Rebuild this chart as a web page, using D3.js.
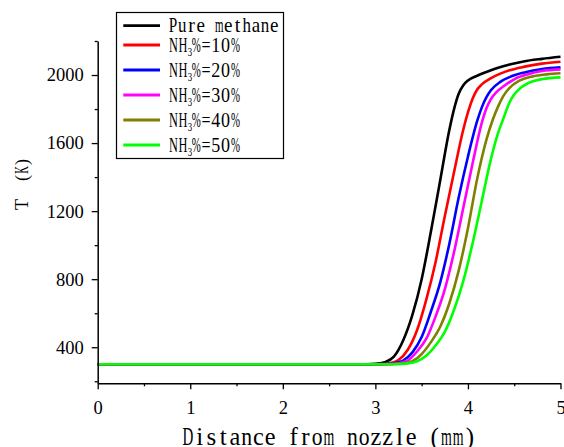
<!DOCTYPE html>
<html>
<head>
<meta charset="utf-8">
<script src="https://cdn.jsdelivr.net/npm/d3@7"></script>
<style>
  html, body { margin: 0; padding: 0; background: #fff; }
  svg { display: block; }
  text { font-family: "Liberation Serif", "Times New Roman", "DejaVu Serif", "Noto Serif", serif; fill: #000; }
</style>
</head>
<body>
<svg id="chart" width="564" height="447"></svg>
<script>
// ---- data ----
const seriesNames = ["Pure methane", "10%", "20%", "30%", "40%", "50%"];
const seriesColors = ["#000000", "#ff0000", "#0000ff", "#ff00ff", "#808000", "#00ff00"];

const pureMethane = [[0,300],[2.9,300],[3.0,302],[3.1,312],[3.2,345],[3.3,440],[3.4,590],[3.5,800],[3.6,1080],[3.7,1380],[3.8,1680],[3.85,1800],[3.9,1890],[3.95,1940],[4.0,1968],[4.1,1996],[4.2,2018],[4.3,2038],[4.45,2062],[4.6,2080],[4.8,2095],[5,2107]];
const nh3_10 = [[0,300],[2.95,300],[3.05,301],[3.15,306],[3.25,325],[3.35,385],[3.45,500],[3.55,680],[3.65,900],[3.75,1170],[3.85,1430],[3.95,1680],[4.0,1780],[4.05,1860],[4.1,1915],[4.15,1945],[4.25,1982],[4.35,2008],[4.45,2028],[4.6,2048],[4.8,2067],[5,2078]];
const nh3_20 = [[0,300],[3.0,300],[3.1,301],[3.2,306],[3.3,322],[3.4,370],[3.5,460],[3.6,610],[3.7,780],[3.8,1010],[3.9,1280],[4.0,1520],[4.1,1730],[4.15,1810],[4.2,1870],[4.25,1912],[4.35,1960],[4.45,1988],[4.6,2014],[4.8,2035],[5,2045]];
const nh3_30 = [[0,300],[3.05,300],[3.15,301],[3.25,306],[3.35,322],[3.45,375],[3.55,450],[3.65,580],[3.75,740],[3.85,960],[3.95,1220],[4.05,1480],[4.15,1720],[4.2,1805],[4.25,1860],[4.3,1895],[4.4,1940],[4.5,1975],[4.65,2005],[4.8,2024],[5,2033]];
const nh3_40 = [[0,300],[3.1,300],[3.2,301],[3.3,305],[3.4,318],[3.5,360],[3.6,430],[3.7,520],[3.8,660],[3.9,850],[4.0,1100],[4.1,1390],[4.2,1620],[4.27,1740],[4.33,1820],[4.38,1875],[4.45,1925],[4.55,1965],[4.7,1992],[4.85,2004],[5,2010]];
const nh3_50 = [[0,300],[3.15,300],[3.25,301],[3.35,305],[3.45,318],[3.55,350],[3.65,410],[3.75,490],[3.85,620],[3.95,790],[4.05,1010],[4.15,1260],[4.25,1510],[4.32,1650],[4.38,1740],[4.45,1840],[4.5,1885],[4.57,1925],[4.65,1952],[4.8,1976],[5,1986]];
const allSeries = [pureMethane, nh3_10, nh3_20, nh3_30, nh3_40, nh3_50];

const xMajorTicks = [0, 1, 2, 3, 4, 5];
const xMinorTicks = [0.5, 1.5, 2.5, 3.5, 4.5];
const yMajorTicks = [400, 800, 1200, 1600, 2000];
const yMinorTicks = [200, 600, 1000, 1400, 1800, 2200];
const xTitle = "Distance from nozzle (mm)";
const yTitleMain = "T";
const yTitleUnit = "(K)";

// ---- layout ----
const svg = d3.select("#chart");
const x = d3.scaleLinear().domain([0, 5]).range([97.7, 560.5]);
const y = d3.scaleLinear().domain([188, 2200]).range([383.3, 41]);

// curves
const line = d3.line().x(d => x(d[0])).y(d => y(d[1])).curve(d3.curveMonotoneX);
svg.append("g").selectAll("path").data(allSeries).join("path")
  .attr("d", line)
  .attr("fill", "none")
  .attr("stroke", (d, i) => seriesColors[i])
  .attr("stroke-width", 2.6)
  .attr("stroke-linejoin", "round");

// axes
function styleAxis(g) {
  g.attr("font-family", null);
  g.selectAll("path.domain").attr("stroke", "#000").attr("stroke-width", 1.5);
  g.selectAll(".tick line").attr("stroke", "#000").attr("stroke-width", 1.3);
}
const xAxisY = 383.3;
const gx = svg.append("g").attr("transform", `translate(0,${xAxisY})`)
  .call(d3.axisBottom(x).tickValues(xMajorTicks).tickSize(6).tickSizeOuter(0).tickPadding(12).tickFormat(d3.format("d")));
styleAxis(gx);
gx.selectAll(".tick text").attr("font-size", 18.5).attr("fill", "#000");
const gxm = svg.append("g").attr("transform", `translate(0,${xAxisY})`)
  .call(d3.axisBottom(x).tickValues(xMinorTicks).tickSize(3).tickFormat(""));
gxm.select("path.domain").remove();
styleAxis(gxm);

const yAxisX = 97.7;
const gy = svg.append("g").attr("transform", `translate(${yAxisX},0)`)
  .call(d3.axisLeft(y).tickValues(yMajorTicks).tickSize(6).tickSizeOuter(0).tickPadding(8).tickFormat(d3.format("d")));
styleAxis(gy);
gy.selectAll(".tick text").attr("font-size", 18.5).attr("fill", "#000");
const gym = svg.append("g").attr("transform", `translate(${yAxisX},0)`)
  .call(d3.axisLeft(y).tickValues(yMinorTicks).tickSize(3).tickFormat(""));
gym.select("path.domain").remove();
styleAxis(gym);

// fixed-pitch text (mimics the half-width CJK font of the original)
function monoText(parent, str, x0, baseY, pitch, fontSize, fill = 0.92) {
  const g = parent.append("g");
  Array.from(str).forEach((c, k) => {
    if (c === " ") return;
    const t = g.append("text").attr("font-size", fontSize).attr("text-anchor", "middle").text(c);
    const w = t.node().getComputedTextLength();
    const s = Math.min(1, pitch * fill / w);
    const cx = x0 + pitch * (k + 0.5);
    t.attr("transform", `translate(${cx},${baseY}) scale(${s},1)`);
  });
  return g;
}

// axis titles
monoText(svg, xTitle, 182, 445, 11.75, 25);

const yt = svg.append("g").attr("transform", "translate(27.5,212) rotate(-90)");
monoText(yt, yTitleMain, 0, 0, 15, 18, 0.95);
monoText(yt, yTitleUnit, 30, 0, 8, 18, 0.95);

// legend
const legend = svg.append("g");
legend.append("rect").attr("x", 116.5).attr("y", 12.5).attr("width", 167).attr("height", 146)
  .attr("fill", "#fff").attr("stroke", "#000").attr("stroke-width", 1.2);
const rowY = [25.7, 45, 70, 95, 120, 145];
seriesNames.forEach((name, i) => {
  legend.append("line").attr("x1", 123.3).attr("x2", 160).attr("y1", rowY[i]).attr("y2", rowY[i])
    .attr("stroke", seriesColors[i]).attr("stroke-width", 2.8);
  if (i === 0) {
    monoText(legend, name, 168.5, rowY[i] + 6, 9.2, 20);
  } else {
    const b = rowY[i] + 6.7;
    monoText(legend, "NH", 168.5, b, 9.7, 20);
    monoText(legend, "3", 187.8, b + 4, 4.4, 12, 1.0);
    monoText(legend, "%=" + name, 191.3, b, 9.8, 20);
  }
});
</script>
</body>
</html>
